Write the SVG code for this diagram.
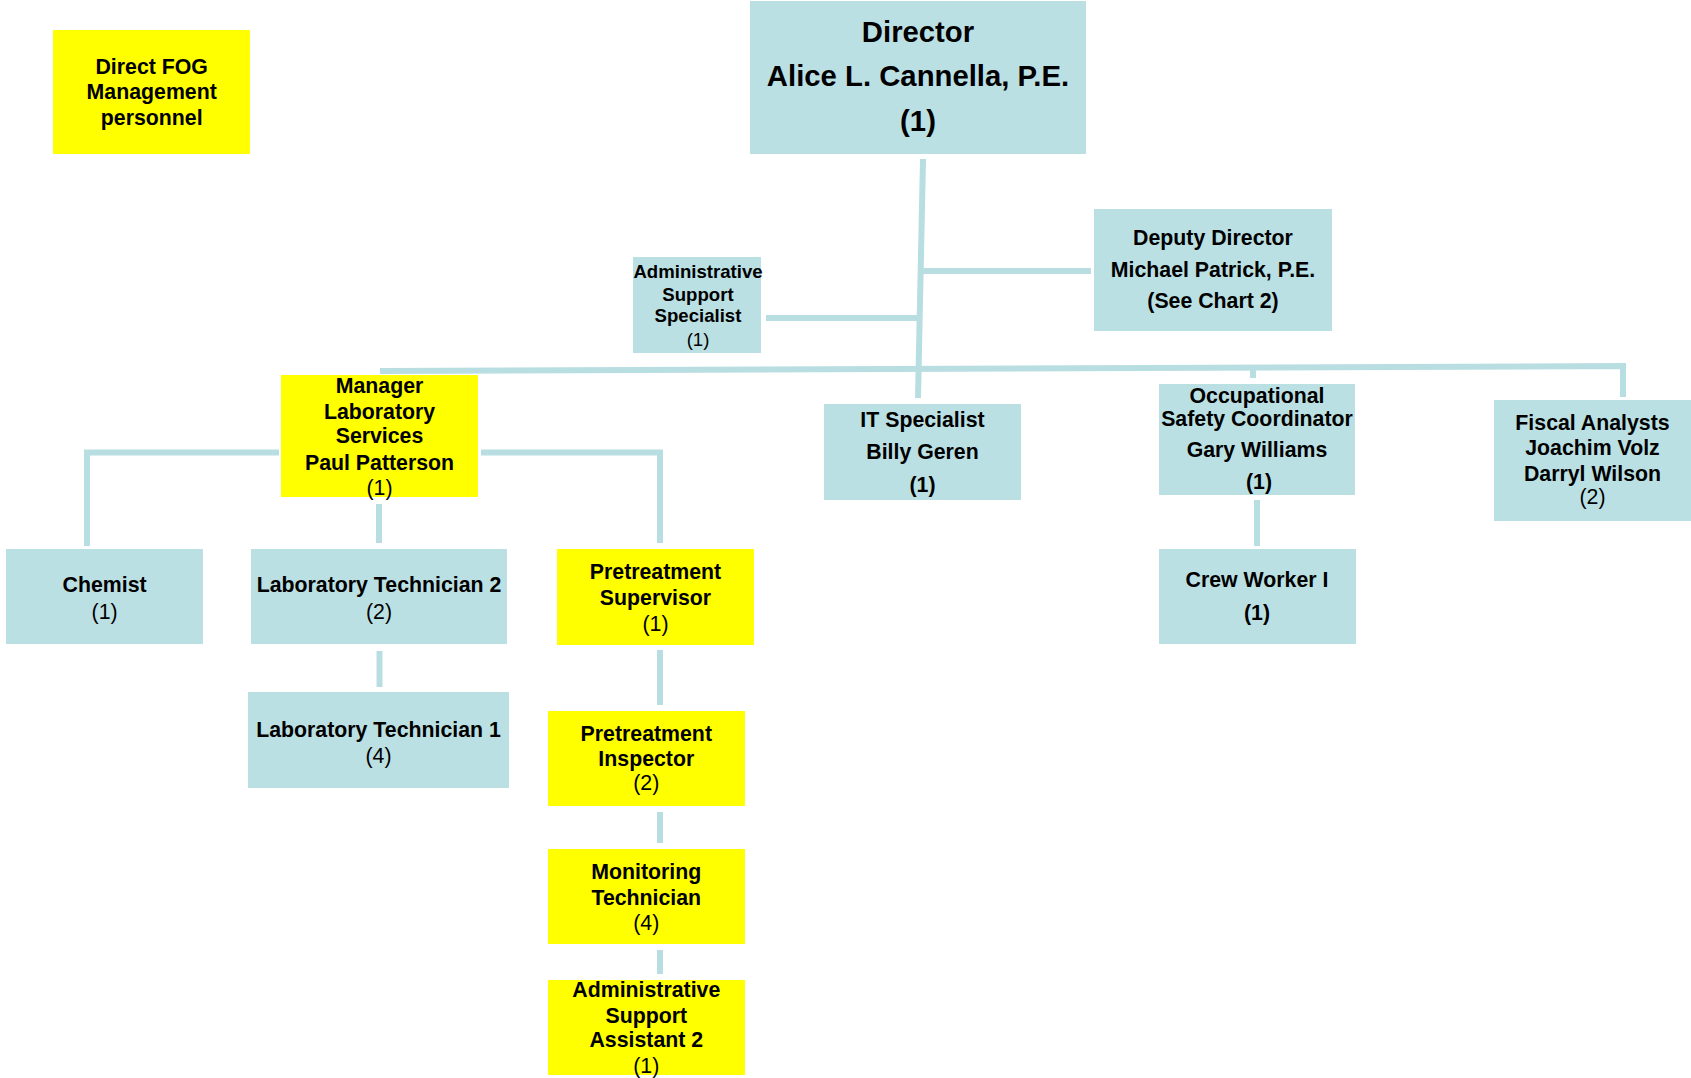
<svg xmlns="http://www.w3.org/2000/svg" width="1691" height="1078" viewBox="0 0 1691 1078">
<style>
.bl{fill:#BBE0E3}
.ye{fill:#FFFF00}
text{font-family:"Liberation Sans",Arial,sans-serif;font-weight:bold;font-size:21.3px;text-anchor:middle;fill:#000}
.r{font-weight:normal}
.big{font-size:29.3px}
.sm{font-size:18.6px}
.c{stroke:#B8DEE2;stroke-width:6;fill:none}
</style>
<rect width="1691" height="1078" fill="#fff"/>
<g id="connectors">
<path class="c" d="M923 159 L918 398"/>
<path class="c" d="M921 271 H1091"/>
<path class="c" d="M766 318 H919"/>
<path class="c" d="M380 371 L1623 366 V397"/>
<path class="c" d="M1253 369 V378"/>
<path class="c" d="M1257 500 V546"/>
<path class="c" d="M279 452.5 H87 V546"/>
<path class="c" d="M481 452.5 H660 V543"/>
<path class="c" d="M379 504 V543"/>
<path class="c" d="M379.5 651 V687"/>
<path class="c" d="M660 650 V705"/>
<path class="c" d="M660 812 V843"/>
<path class="c" d="M660 950 V974"/>
</g>
<g id="fog">
<rect class="ye" x="53" y="30" width="197" height="124"/>
<text x="151.7" y="74">Direct FOG</text>
<text x="151.7" y="99.3">Management</text>
<text x="151.7" y="125">personnel</text>
</g>
<g id="director">
<rect class="bl" x="750" y="1" width="336" height="153"/>
<text class="big" x="918" y="42">Director</text>
<text class="big" x="918" y="86">Alice L. Cannella, P.E.</text>
<text class="big" x="918" y="131">(1)</text>
</g>
<g id="admin-support-specialist">
<rect class="bl" x="633" y="257" width="128" height="96"/>
<text class="sm" x="698" y="277.7">Administrative</text>
<text class="sm" x="698" y="301">Support</text>
<text class="sm" x="698" y="322.3">Specialist</text>
<text class="sm r" x="698" y="346">(1)</text>
</g>
<g id="deputy">
<rect class="bl" x="1094" y="209" width="238" height="122"/>
<text x="1213" y="245">Deputy Director</text>
<text x="1213" y="276.7">Michael Patrick, P.E.</text>
<text x="1213" y="308.3">(See Chart 2)</text>
</g>
<g id="manager">
<rect class="ye" x="281" y="375" width="197" height="122"/>
<text x="379.5" y="392.7">Manager</text>
<text x="379.5" y="419.3">Laboratory</text>
<text x="379.5" y="443.3">Services</text>
<text x="379.5" y="470">Paul Patterson</text>
<text class="r" x="379.5" y="495">(1)</text>
</g>
<g id="it-specialist">
<rect class="bl" x="824" y="404" width="197" height="96"/>
<text x="922.5" y="426.7">IT Specialist</text>
<text x="922.5" y="459">Billy Geren</text>
<text x="922.5" y="491.7">(1)</text>
</g>
<g id="osc">
<rect class="bl" x="1159" y="384" width="196" height="111"/>
<text x="1257" y="402.7">Occupational</text>
<text x="1257" y="426">Safety Coordinator</text>
<text x="1257" y="457.3">Gary Williams</text>
<text x="1259" y="489">(1)</text>
</g>
<g id="fiscal">
<rect class="bl" x="1494" y="400" width="197" height="121"/>
<text x="1592.5" y="430">Fiscal Analysts</text>
<text x="1592.5" y="455">Joachim Volz</text>
<text x="1592.5" y="481">Darryl Wilson</text>
<text class="r" x="1592.5" y="504">(2)</text>
</g>
<g id="chemist">
<rect class="bl" x="6" y="549" width="197" height="95"/>
<text x="104.6" y="591.7">Chemist</text>
<text class="r" x="104.6" y="619">(1)</text>
</g>
<g id="lab-tech-2">
<rect class="bl" x="251" y="549" width="256" height="95"/>
<text x="379" y="591.7">Laboratory Technician 2</text>
<text class="r" x="379" y="619">(2)</text>
</g>
<g id="pretreatment-supervisor">
<rect class="ye" x="557" y="549" width="197" height="96"/>
<text x="655.5" y="579">Pretreatment</text>
<text x="655.5" y="605">Supervisor</text>
<text class="r" x="655.5" y="631">(1)</text>
</g>
<g id="crew-worker">
<rect class="bl" x="1159" y="549" width="197" height="95"/>
<text x="1257" y="586.7">Crew Worker I</text>
<text x="1257" y="619.5">(1)</text>
</g>
<g id="lab-tech-1">
<rect class="bl" x="248" y="692" width="261" height="96"/>
<text x="378.5" y="736.7">Laboratory Technician 1</text>
<text class="r" x="378.5" y="762.7">(4)</text>
</g>
<g id="pretreatment-inspector">
<rect class="ye" x="548" y="711" width="197" height="95"/>
<text x="646.3" y="740.7">Pretreatment</text>
<text x="646.3" y="766">Inspector</text>
<text class="r" x="646.3" y="790">(2)</text>
</g>
<g id="monitoring-technician">
<rect class="ye" x="548" y="849" width="197" height="95"/>
<text x="646.3" y="879.3">Monitoring</text>
<text x="646.3" y="905">Technician</text>
<text class="r" x="646.3" y="930">(4)</text>
</g>
<g id="admin-support-assistant">
<rect class="ye" x="548" y="980" width="197" height="95"/>
<text x="646.3" y="996.7">Administrative</text>
<text x="646.3" y="1022.7">Support</text>
<text x="646.3" y="1047.3">Assistant 2</text>
<text class="r" x="646.3" y="1073">(1)</text>
</g>
</svg>
